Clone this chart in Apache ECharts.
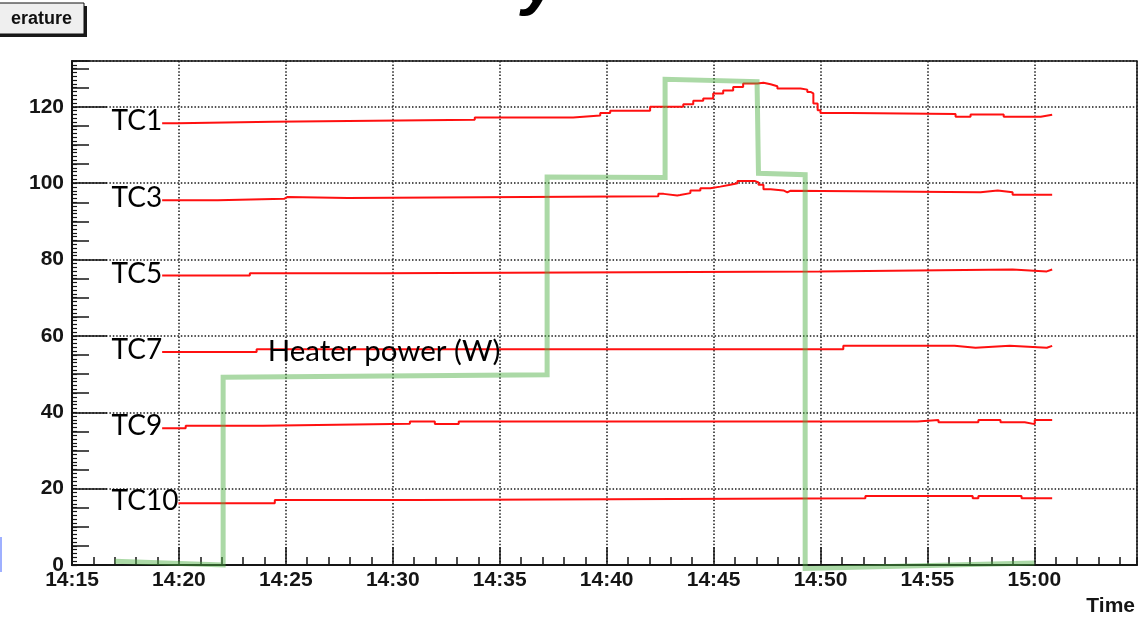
<!DOCTYPE html>
<html>
<head>
<meta charset="utf-8">
<script src="https://cdn.jsdelivr.net/npm/echarts@6/dist/echarts.min.js"></script>
<style>
  html, body { margin: 0; padding: 0; background: #fff; }
  #c { width: 1140px; height: 620px; }
</style>
</head>
<body>
<div id="c"></div>
<script>
// ---------------- data ----------------
const xTickLabels = ['14:15','14:20','14:25','14:30','14:35','14:40','14:45','14:50','14:55','15:00'];
const yTickLabels = [0, 20, 40, 60, 80, 100, 120];
const seriesNames = ['TC1','TC3','TC5','TC7','TC9','TC10'];

const tc1Time  = ['14:17:00','14:19:56','14:24:23','14:33:50','14:38:26','14:39:42','14:40:10','14:42:02','14:43:35','14:44:03','14:44:31','14:44:59','14:45:27','14:45:55','14:46:23','14:47:03','14:47:20','14:47:40','14:47:59','14:49:04','14:49:23','14:49:32','14:49:40','14:49:52','14:50:00','14:51:24','14:56:19','14:57:01','14:58:34','15:00:18','15:00:50'];
const tc1Value = [115.7,116.1,116.6,117.2,117.7,118.4,119.0,120.0,120.7,121.6,122.2,123.5,124.3,125.2,126.1,126.3,125.9,125.4,124.8,124.5,123.9,123.5,120.9,119.1,118.4,118.1,117.4,118.0,117.4,117.9,117.9];

const tc3Time  = ['14:17:00','14:21:49','14:24:55','14:25:05','14:27:54','14:42:25','14:42:40','14:43:18','14:43:26','14:43:55','14:44:23','14:44:51','14:45:19','14:45:47','14:46:07','14:46:55','14:47:06','14:47:20','14:47:40','14:48:16','14:48:27','14:48:35','14:57:29','14:58:17','14:58:59','15:00:50'];
const tc3Value = [95.5,95.9,96.4,96.1,96.6,97.2,96.8,96.9,97.4,98.1,98.7,99.1,99.6,100.0,100.6,100.2,99.6,98.4,98.1,97.6,98.0,97.6,98.1,97.6,97.0,97.0];

const tc5Time  = ['14:17:00','14:23:19','14:29:32','14:49:57','14:58:59','15:00:35','15:00:50'];
const tc5Value = [75.8,76.4,76.9,77.4,76.9,77.4,77.4];

const tc7Time  = ['14:17:00','14:23:38','14:51:04','14:56:16','14:57:15','14:58:51','15:00:35','15:00:50'];
const tc7Value = [55.8,56.5,57.4,56.9,57.4,56.9,57.4,57.4];

const tc9Time  = ['14:17:00','14:20:19','14:23:55','14:30:48','14:31:58','14:33:05','14:54:32','14:55:31','14:57:23','14:58:25','14:59:33','15:00:01','15:00:50'];
const tc9Value = [35.8,36.5,37.0,37.6,36.9,37.6,38.0,37.4,38.0,37.4,36.9,38.0,38.0];

const tc10Time  = ['14:17:00','14:24:29','14:31:13','14:52:06','14:57:07','14:57:23','14:59:24','15:00:50'];
const tc10Value = [16.2,17.0,17.5,18.1,17.5,18.1,17.5,17.5];

const heaterTime  = ['14:17:00','14:22:04','14:22:04','14:37:13','14:37:13','14:42:44','14:42:44','14:47:02','14:47:06','14:49:17','14:49:17','15:00:00'];
const heaterValue = [1.0,0.0,49.2,49.8,101.6,101.5,127.2,126.6,102.6,102.2,-0.9,0.5];

const heaterLabelText = 'Heater power (W)';
const xAxisTitle = 'Time';
const boxText = 'erature';

// ---------------- helpers ----------------
const T0 = 14 * 60 + 15; // axis origin 14:15, in minutes
function toMin(s) {
  const p = s.split(':').map(Number);
  return p[0] * 60 + p[1] + (p[2] || 0) / 60 - T0;
}
function pairs(times, values) { return times.map((t, i) => [toMin(t), values[i]]); }
function fmtMin(m) {
  const tot = Math.round(m) + T0;
  return String(Math.floor(tot / 60)) + ':' + String(tot % 60).padStart(2, '0');
}

const redData = [
  pairs(tc1Time, tc1Value), pairs(tc3Time, tc3Value), pairs(tc5Time, tc5Value),
  pairs(tc7Time, tc7Value), pairs(tc9Time, tc9Value), pairs(tc10Time, tc10Value)
];
const heaterData = pairs(heaterTime, heaterValue);

const X_MAX = toMin('15:04:48');
const Y_MAX = 132;
const INK = '#151515';
const dotted = { type: [1.5, 1.9], color: '#1a1a1a', width: 1.5 };
const tickFont = { fontFamily: 'Liberation Sans', fontWeight: 'bold', fontSize: 21, color: INK };

const chart = echarts.init(document.getElementById('c'), null, { renderer: 'canvas' });

const series = redData.map((d, i) => ({
  name: seriesNames[i], type: 'line', step: 'end', data: d, xAxisIndex: 0, yAxisIndex: 0,
  symbol: 'none', silent: true, lineStyle: { color: '#ff1010', width: 2 }, z: 3
}));
series.push({
  name: 'Heater', type: 'line', data: heaterData, xAxisIndex: 0, yAxisIndex: 0,
  symbol: 'none', silent: true, clip: false,
  lineStyle: { color: 'rgba(80,175,70,0.48)', width: 5, join: 'miter' }, z: 4
});

chart.setOption({
  animation: false,
  backgroundColor: '#fff',
  grid: { left: 72, right: 3, top: 61, bottom: 55, show: true, borderColor: INK, borderWidth: 1.5 },
  xAxis: [
    {
      type: 'value', min: 0, max: X_MAX, interval: 5, position: 'bottom',
      axisLine: { show: true, onZero: false, lineStyle: { color: INK, width: 2 } },
      axisTick: { show: true, inside: true, length: 18, lineStyle: { color: INK, width: 1.5 } },
      axisLabel: Object.assign({
        margin: 5, showMaxLabel: false,
        formatter: v => (Math.abs(v % 5) < 1e-6 && xTickLabels.includes(fmtMin(v))) ? fmtMin(v) : ''
      }, tickFont),
      splitLine: { show: true, lineStyle: dotted }
    },
    {
      type: 'value', min: 0, max: X_MAX, interval: 1, position: 'bottom',
      axisLine: { show: false }, axisLabel: { show: false }, splitLine: { show: false },
      axisTick: { show: true, inside: true, length: 8, lineStyle: { color: INK, width: 1.5 } }
    }
  ],
  yAxis: [
    {
      type: 'value', min: 0, max: Y_MAX, interval: 20, position: 'left',
      axisLine: { show: true, onZero: false, lineStyle: { color: INK, width: 2 } },
      axisTick: { show: true, inside: true, length: 35, lineStyle: { color: INK, width: 1.5 } },
      axisLabel: Object.assign({
        margin: 8, showMaxLabel: false,
        formatter: v => yTickLabels.includes(v) ? String(v) : ''
      }, tickFont),
      splitLine: { show: true, lineStyle: dotted }
    },
    {
      type: 'value', min: 0, max: Y_MAX, interval: 5, position: 'left',
      axisLine: { show: false }, axisLabel: { show: false }, splitLine: { show: false },
      axisTick: { show: true, inside: true, length: 17, lineStyle: { color: INK, width: 1.5 } }
    },
    {
      type: 'value', min: 0, max: Y_MAX, interval: 1, position: 'left',
      axisLine: { show: false }, axisLabel: { show: false }, splitLine: { show: false },
      axisTick: { show: true, inside: true, length: 5, lineStyle: { color: INK, width: 1.2 } }
    }
  ],
  series: series
});

// ---------------- annotations (positions in data units) ----------------
const labelAt = toMin('14:16:51');
const heaterLabelAt = [toMin('14:24:09'), 56.0];
const graphics = [];
redData.forEach((d, i) => {
  const p = chart.convertToPixel({ gridIndex: 0 }, [labelAt, d[0][1]]);
  graphics.push({
    type: 'text', x: p[0], y: p[1] - 2, z: 10, silent: true,
    style: {
      text: seriesNames[i], fontFamily: 'Lato', fontSize: 28, fill: '#000',
      align: 'left', verticalAlign: 'middle', backgroundColor: '#fff', lineHeight: 22
    }
  });
});
const hp = chart.convertToPixel({ gridIndex: 0 }, heaterLabelAt);
graphics.push({
  type: 'text', x: hp[0], y: hp[1], z: 10, silent: true,
  style: { text: heaterLabelText, fontFamily: 'Lato', fontSize: 29.5, fill: '#000', align: 'left', verticalAlign: 'middle' }
});
// axis title
graphics.push({
  type: 'text', right: 5, top: 596, z: 10, silent: true,
  style: { text: xAxisTitle, fontFamily: 'Liberation Sans', fontWeight: 'bold', fontSize: 21, fill: INK }
});
// cut-off title box at top-left
graphics.push({ type: 'rect', shape: { x: -10, y: 6, width: 97, height: 31 }, style: { fill: '#1a1a1a' }, z: 10, silent: true });
graphics.push({ type: 'rect', shape: { x: -12, y: 3, width: 96, height: 31 }, style: { fill: '#efefef', stroke: '#111', lineWidth: 1 }, z: 11, silent: true });
graphics.push({
  type: 'text', x: 11, y: 19, z: 12, silent: true,
  style: { text: boxText, fontFamily: 'Liberation Sans', fontWeight: 'bold', fontSize: 18, fill: '#111', align: 'left', verticalAlign: 'middle' }
});
// descender of the cut-off slide title above the chart
graphics.push({
  type: 'text', x: 522, y: 17, z: 12, silent: true,
  style: { text: 'y', fontFamily: 'Liberation Sans', fontWeight: 'bold', fontStyle: 'italic', fontSize: 66, fill: '#000', align: 'left', verticalAlign: 'bottom' }
});
// small blue slide fragment at left edge
graphics.push({ type: 'rect', shape: { x: 0, y: 537, width: 2, height: 35 }, style: { fill: '#9fb0ff' }, z: 12, silent: true });

chart.setOption({ graphic: graphics });
</script>
</body>
</html>
